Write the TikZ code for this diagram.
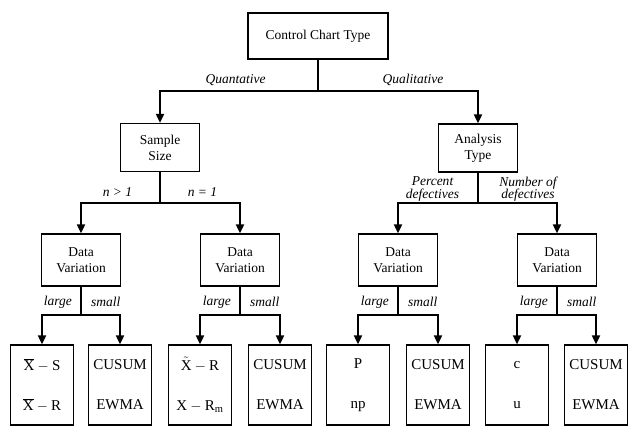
\documentclass[tikz,border=0pt]{standalone}
\usepackage{fontspec}
\setmainfont{Liberation Serif}
\usetikzlibrary{arrows.meta}
\begin{document}
\begin{tikzpicture}[x=1pt,y=-1pt,
  box/.style={draw, line width=1.2pt, inner sep=0pt, align=center,
    font=\fontsize{13.5}{16}\selectfont},
  mid/.style={box, minimum width=79pt, minimum height=48pt},
  dvbox/.style={box, minimum width=79pt, minimum height=52pt},
  leaf/.style={box, minimum width=63pt, minimum height=80pt,
    font=\fontsize{15}{40}\selectfont},
  conn/.style={line width=1.8pt},
  arr/.style={conn, -{Triangle[length=9pt,width=8pt]}},
  lab/.style={inner sep=0pt, align=center, font=\fontsize{13.5}{12.5}\selectfont\itshape}]
\path[use as bounding box, fill=white] (0,0) rectangle (629,427);

% nodes
\node[box, minimum width=140pt, minimum height=46pt] (top) at (318,36) {Control Chart Type};
\node[mid] (ss) at (160,147.5) {Sample\\Size};
\node[mid] (at) at (478,148) {Analysis\\Type};
\node[dvbox] (dv1) at (81,260) {Data\\Variation};
\node[dvbox] (dv2) at (240,260) {Data\\Variation};
\node[dvbox] (dv3) at (398,260) {Data\\Variation};
\node[dvbox] (dv4) at (557,260) {Data\\Variation};

\node[leaf] (l1) at (42,385) {$\overline{\mathrm{X}}-\mathrm{S}$\\$\overline{\mathrm{X}}-\mathrm{R}$};
\node[leaf] (l2) at (120,385) {CUSUM\\EWMA};
\node[leaf] (l3) at (200,385) {$\tilde{\mathrm{X}}-\mathrm{R}$\\$\mathrm{X}-\mathrm{R}_{\mathrm{m}}$};
\node[leaf] (l4) at (280,385) {CUSUM\\EWMA};
\node[leaf] (l5) at (358,385) {P\\np};
\node[leaf] (l6) at (438,385) {CUSUM\\EWMA};
\node[leaf] (l7) at (517,385) {c\\u};
\node[leaf] (l8) at (596,385) {CUSUM\\EWMA};

% bus coordinates
\coordinate (btop) at (top.south |- 0,91);
\coordinate (bss) at (ss.south |- 0,203);
\coordinate (bat) at (at.south |- 0,203);
\coordinate (bd1) at (dv1.south |- 0,315);
\coordinate (bd2) at (dv2.south |- 0,315);
\coordinate (bd3) at (dv3.south |- 0,315);
\coordinate (bd4) at (dv4.south |- 0,315);

% connectors
\draw[conn] (top.south) -- (btop);
\draw[arr] (btop) -| (ss.north);
\draw[arr] (btop) -| (at.north);
\draw[conn] (ss.south) -- (bss);
\draw[arr] (bss) -| (dv1.north);
\draw[arr] (bss) -| (dv2.north);
\draw[conn] (at.south) -- (bat);
\draw[arr] (bat) -| (dv3.north);
\draw[arr] (bat) -| (dv4.north);
\draw[conn] (dv1.south) -- (bd1);
\draw[arr] (bd1) -| (l1.north);
\draw[arr] (bd1) -| (l2.north);
\draw[conn] (dv2.south) -- (bd2);
\draw[arr] (bd2) -| (l3.north);
\draw[arr] (bd2) -| (l4.north);
\draw[conn] (dv3.south) -- (bd3);
\draw[arr] (bd3) -| (l5.north);
\draw[arr] (bd3) -| (l6.north);
\draw[conn] (dv4.south) -- (bd4);
\draw[arr] (bd4) -| (l7.north);
\draw[arr] (bd4) -| (l8.north);

% labels
\node[lab] (q1) at (235.5,80) {Quantative};
\node[lab] (q2) at (413,80) {Qualitative};
\node[lab] (n1) at (117.5,192) {n > 1};
\node[lab] (n2) at (202.5,192) {n = 1};
\node[lab] (pd) at (432.5,189) {Percent\\defectives};
\node[lab] (nd) at (528,189) {Number of\\defectives};
\foreach \i/\x in {1/81,2/240,3/398,4/557}{
  \node[lab, anchor=east] (lg\i) at (\x-9,302) {large};
  \node[lab, anchor=west] (sm\i) at (\x+10,302) {small};
}
\end{tikzpicture}
\end{document}
